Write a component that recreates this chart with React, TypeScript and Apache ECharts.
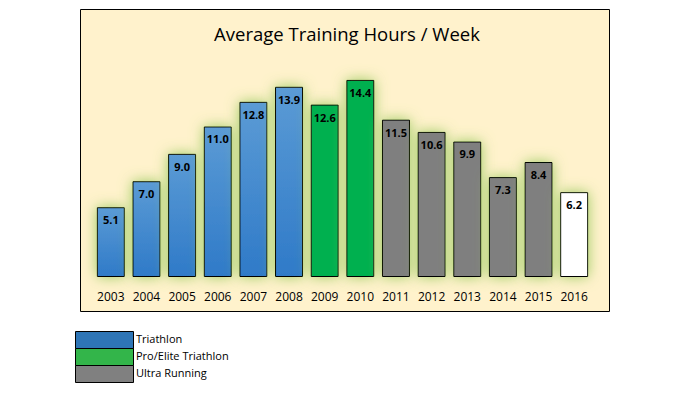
import React, { useEffect, useRef } from "react";
import * as echarts from "echarts";

const years = ["2003","2004","2005","2006","2007","2008","2009","2010","2011","2012","2013","2014","2015","2016"];
const hours = [5.1, 7.0, 9.0, 11.0, 12.8, 13.9, 12.6, 14.4, 11.5, 10.6, 9.9, 7.3, 8.4, 6.2];
const groups = ["tri","tri","tri","tri","tri","tri","pro","pro","ultra","ultra","ultra","ultra","ultra","current"];
const legendNames = ["Triathlon", "Pro/Elite Triathlon", "Ultra Running"];
const legendColors = ["#2E75B6", "#33B54A", "#808080"];

const FONT = "'Open Sans', 'Noto Sans', sans-serif";

const barFill = (g: string): any => {
  if (g === "tri")
    return new echarts.graphic.LinearGradient(0, 0, 0, 1, [
      { offset: 0, color: "#5B9BD5" },
      { offset: 1, color: "#2F7AC8" },
    ]);
  if (g === "pro") return "#00B050";
  if (g === "ultra") return "#7F7F7F";
  return "#FFFFFF";
};

export default function App() {
  const ref = useRef<HTMLDivElement>(null);
  useEffect(() => {
    const chart = echarts.init(ref.current!, null, { renderer: "svg" });
    const legendGraphics: any[] = [];
    legendNames.forEach((n, i) => {
      legendGraphics.push({
        type: "rect",
        left: 75,
        top: 331 + i * 17,
        shape: { width: 58, height: 17 },
        style: { fill: legendColors[i], stroke: "#000", lineWidth: 1 },
      });
      legendGraphics.push({
        type: "text",
        left: 136,
        top: 333 + i * 17,
        style: { text: n, fill: "#000", font: `11px ${FONT}` },
      });
    });
    chart.setOption({
      animation: false,
      title: {
        text: "Average Training Hours / Week",
        left: 342,
        textAlign: "center",
        top: 19,
        textStyle: { fontFamily: FONT, fontSize: 18.5, fontWeight: "normal", color: "#000" },
      },
      graphic: [
        {
          type: "rect",
          left: 80,
          top: 9,
          z: -10,
          shape: { width: 529, height: 302 },
          style: { fill: "#FFF2CC", stroke: "#000", lineWidth: 1 },
        },
        ...legendGraphics,
      ],
      grid: { left: 93, right: 685 - 592, top: 58, bottom: 399 - 277, containLabel: false },
      xAxis: {
        type: "category",
        data: years,
        axisLine: { show: false },
        axisTick: { show: false },
        axisLabel: { interval: 0, fontFamily: FONT, fontSize: 12, color: "#000", margin: 13 },
      },
      yAxis: {
        type: "value",
        min: 0,
        max: 16,
        show: false,
        splitLine: { show: false },
      },
      series: [
        {
          type: "bar",
          barWidth: 28,
          data: hours.map((v, i) => ({
            value: v,
            itemStyle: {
              color: barFill(groups[i]),
              borderColor: "#000",
              borderWidth: 1,
              shadowColor: "rgba(150,200,90,0.95)",
              shadowBlur: 14,
            },
          })),
          label: {
            show: true,
            position: "insideTop",
            distance: 7,
            formatter: (p: any) => p.value.toFixed(1),
            fontFamily: FONT,
            fontSize: 11,
            fontWeight: "bold",
            color: "#000",
          },
        },
      ],
    });
    return () => chart.dispose();
  }, []);
  return (
    <div
      ref={ref}
      style={{ position: "fixed", left: 0, top: 0, width: 685, height: 399, background: "#fff" }}
    />
  );
}
